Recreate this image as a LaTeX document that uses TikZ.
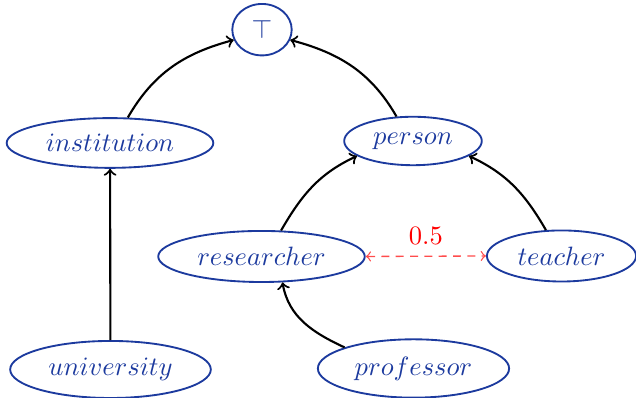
\documentclass[tikz,border=0pt]{standalone}
\usetikzlibrary{shapes.geometric}
\definecolor{nodeblue}{RGB}{28,58,158}
\begin{document}
\begin{tikzpicture}[x=0.377pt,y=0.377pt,
  cls/.style={ellipse, draw=nodeblue, text=nodeblue, line width=0.7pt},
  arr/.style={->, black, line width=0.8pt},
  sim/.style={<->, dashed, red!70, line width=0.5pt, dash pattern=on 3pt off 2.4pt}]
\useasboundingbox (0,0) rectangle (636,398);
\node[cls, minimum width=22.4pt, minimum height=19.4pt, inner sep=0pt] (top) at (262,368.3) {$\top$};
\node[cls] (inst) at (110,255) {$institution$};
\node[cls] (person) at (413,257) {$person$};
\node[cls] (res) at (261.5,141.5) {$researcher$};
\node[cls] (teach) at (561.5,142) {$teacher$};
\node[cls] (univ) at (110.5,28.5) {$university$};
\node[cls] (prof) at (413.5,29.5) {$professor$};
\draw[arr] (inst.55) to[out=60, in=195] (top.200);
\draw[arr] (person.124) to[out=120, in=-15] (top.340);
\draw[arr] (univ) -- (inst);
\draw[arr] (res.53) to[out=60, in=205] (person.195);
\draw[arr] (teach.121) to[out=120, in=-25] (person.345);
\draw[arr] (prof.163) to[out=155, in=-80] (res.309);
\draw[sim] (res.east) -- node[above=1pt, text=red] {$0.5$} (teach.west);
\end{tikzpicture}
\end{document}
